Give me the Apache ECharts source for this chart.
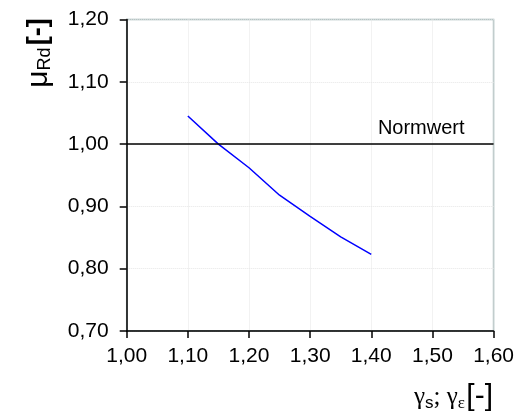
<!DOCTYPE html>
<html>
<head>
<meta charset="utf-8">
<script src="https://cdn.jsdelivr.net/npm/echarts@6/dist/echarts.min.js"></script>
<style>html,body{margin:0;padding:0;background:#fff;}#c{width:517px;height:418px;}</style>
</head>
<body>
<div id="c"></div>
<script>
var xValues = [1.10, 1.15, 1.20, 1.25, 1.30, 1.35, 1.40];
var muValues = [1.045, 1.000, 0.962, 0.918, 0.884, 0.851, 0.823];
var normValue = 1.00;
var normLabel = 'Normwert';
var xMin = 1.0, xMax = 1.6, yMin = 0.7, yMax = 1.2;

var chart = echarts.init(document.getElementById('c'));
var fmt = function (v) { return v.toFixed(2).replace('.', ','); };
var font = 'Liberation Sans, Arial, sans-serif';
var serif = 'Liberation Serif, Times New Roman, serif';

chart.setOption({
  animation: false,
  backgroundColor: '#fff',
  grid: { left: 126.7, right: 23, top: 19.5, bottom: 87, show: true, borderColor: '#9fb5b5', borderWidth: 1.5, backgroundColor: 'transparent' },
  xAxis: {
    type: 'value', min: xMin, max: xMax, interval: 0.1,
    axisLine: { show: true, lineStyle: { color: '#000', width: 1.5 } },
    axisTick: { show: true, inside: false, length: 7, lineStyle: { color: '#000', width: 1.5 } },
    axisLabel: { formatter: fmt, color: '#000', fontSize: 21, fontFamily: font, margin: 15 },
    splitLine: { show: true, lineStyle: { color: '#e6e6e6', type: 'dotted', width: 1 } }
  },
  yAxis: {
    type: 'value', min: yMin, max: yMax, interval: 0.1,
    axisLine: { show: true, lineStyle: { color: '#000', width: 1.5 } },
    axisTick: { show: true, inside: false, length: 7, lineStyle: { color: '#000', width: 1.5 } },
    axisLabel: { formatter: fmt, color: '#000', fontSize: 21, fontFamily: font, margin: 18 },
    splitLine: { show: true, lineStyle: { color: '#e6e6e6', type: 'dotted', width: 1 } }
  },
  series: [{
    type: 'line',
    data: xValues.map(function (x, i) { return [x, muValues[i]]; }),
    showSymbol: false,
    lineStyle: { color: '#0000ff', width: 1.5 },
    markLine: {
      silent: true,
      symbol: 'none',
      lineStyle: { color: '#000', width: 1.5, type: 'solid' },
      label: { show: true, position: 'insideEndTop', formatter: normLabel, color: '#000', fontSize: 20, fontFamily: font, distance: [29, 6] },
      data: [{ yAxis: normValue }]
    }
  }],
  graphic: [
    {
      type: 'text', x: 39, y: 53, rotation: Math.PI / 2,
      style: {
        text: '{mu|μ}{sub|Rd}{sp| }{br|[-]}',
        align: 'center', verticalAlign: 'middle',
        rich: {
          mu: { fontSize: 30, fontFamily: font, fill: '#000' },
          sub: { fontSize: 18, fontFamily: font, fill: '#000', verticalAlign: 'bottom', padding: [10, 0, 0, 0] },
          sp: { fontSize: 8, fontFamily: font },
          br: { fontSize: 27, fontFamily: font, fill: '#000', fontWeight: 'bold' }
        }
      }
    },
    {
      type: 'text', x: 493, y: 397,
      style: {
        text: '{g|γ}{sub|s}{g|; γ}{sube|ε}{sp| }{br|[-]}',
        align: 'right', verticalAlign: 'middle',
        rich: {
          g: { fontSize: 25, fontFamily: serif, fill: '#000' },
          sub: { fontSize: 17, fontFamily: font, fill: '#000', verticalAlign: 'bottom', padding: [9, 0, 0, 0] },
          sube: { fontSize: 17, fontFamily: serif, fill: '#000', verticalAlign: 'bottom', padding: [9, 0, 0, 0] },
          sp: { fontSize: 5, fontFamily: font },
          br: { fontSize: 30, fontFamily: font, fill: '#000' }
        }
      }
    }
  ]
});
</script>
</body>
</html>
